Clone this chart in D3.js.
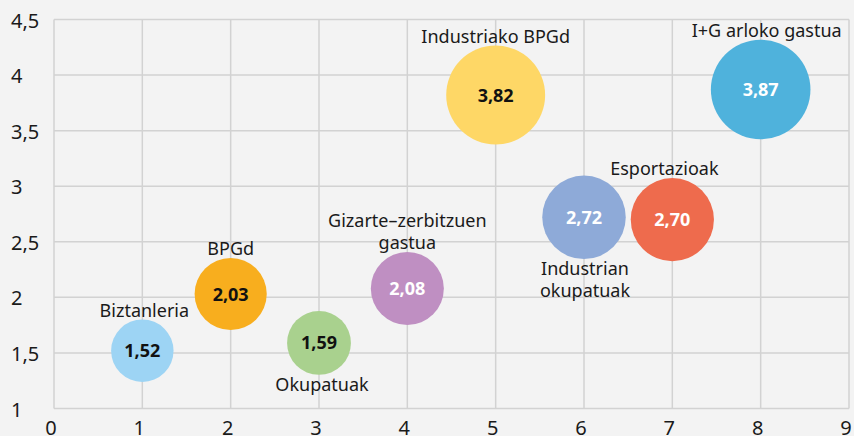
<!DOCTYPE html>
<html>
<head>
<meta charset="utf-8">
<script src="https://cdn.jsdelivr.net/npm/d3@7"></script>
<style>
	html, body { margin: 0; padding: 0; background: #f3f3f3; }
	svg { display: block; font-family: "Noto Sans", sans-serif; }
	.grid line { stroke: #d2d2d2; stroke-width: 1.5; }
	.tick-label { font-size: 20px; fill: #1a1a1a; }
	.name { font-size: 18px; fill: #1a1a1a; }
	.value { font-size: 18px; font-weight: bold; }
</style>
</head>
<body>
<div id="chart"></div>
<script>
// categories (one bubble for each), in the order along the x axis
const names = ["Biztanleria", "BPGd", "Okupatuak", "Gizarte–zerbitzuen gastua", "Industriako BPGd",
	"Industrian okupatuak", "Esportazioak", "I+G arloko gastua"];
const xValues = [1, 2, 3, 4, 5, 6, 7, 8];
const yValues = [1.52, 2.03, 1.59, 2.08, 3.82, 2.72, 2.70, 3.87];

// tick labels
const xTicks = [0, 1, 2, 3, 4, 5, 6, 7, 8, 9];
const yTicks = [1, 1.5, 2, 2.5, 3, 3.5, 4, 4.5];

// colori delle bolle e del testo interno
const colors = ["#9dd4f4", "#f8ae1e", "#a9d18e", "#bf8fc2", "#fed766", "#8eaad8", "#ee6b4d", "#4fb2dc"];
const valueColors = ["#111", "#111", "#111", "#fff", "#111", "#fff", "#fff", "#fff"];

// dove mettere il nome: sopra o sotto la bolla, le righe e un piccolo spostamento orizzontale
const labelSide = ["above", "above", "below", "above", "above", "below", "above", "above"];
const labelLines = [["Biztanleria"], ["BPGd"], ["Okupatuak"], ["Gizarte–zerbitzuen", "gastua"],
	["Industriako BPGd"], ["Industrian", "okupatuak"], ["Esportazioak"], ["I+G arloko gastua"]];
const labelDx = [2, 0, 3, 0, 0, 1, -8, 6];

const width = 854, height = 436;
const margin = { top: 19.5, right: 5, bottom: 27.5, left: 54 };

const svg = d3.select("#chart").append("svg")
	.attr("width", width)
	.attr("height", height);

svg.append("rect")
	.attr("width", width)
	.attr("height", height)
	.attr("fill", "#f3f3f3");

const x = d3.scaleLinear().domain([0, 9]).range([margin.left, width - margin.right]);
const y = d3.scaleLinear().domain([1, 4.5]).range([height - margin.bottom, margin.top]);
// area proporzionale al valore
const r = d3.scaleSqrt().domain([0, 3.87]).range([0, 49.8]);

// griglia
const grid = svg.append("g").attr("class", "grid");
grid.selectAll(".v")
	.data(xTicks)
	.enter().append("line")
	.attr("x1", d => x(d)).attr("x2", d => x(d))
	.attr("y1", y(4.5)).attr("y2", y(1));
grid.selectAll(".h")
	.data(yTicks)
	.enter().append("line")
	.attr("x1", x(0)).attr("x2", x(9))
	.attr("y1", d => y(d)).attr("y2", d => y(d));

// etichette degli assi
svg.selectAll(".ytick")
	.data(yTicks)
	.enter().append("text")
	.attr("class", "tick-label")
	.attr("x", 11)
	.attr("y", d => y(d))
	.attr("dy", "0.4em")
	.text(d => d3.format(".1~f")(d).replace(".", ","));

svg.selectAll(".xtick")
	.data(xTicks)
	.enter().append("text")
	.attr("class", "tick-label")
	.attr("x", d => x(d) - 3)
	.attr("y", 435)
	.attr("text-anchor", "middle")
	.text(d => d);

const data = names.map((n, i) => ({ name: n, x: xValues[i], y: yValues[i], i: i }));

const node = svg.selectAll(".node")
	.data(data)
	.enter().append("g")
	.attr("class", "node")
	.attr("transform", d => "translate(" + x(d.x) + "," + y(d.y) + ")");

node.append("circle")
	.attr("r", d => r(d.y))
	.attr("fill", d => colors[d.i]);

node.append("text")
	.attr("class", "value")
	.attr("text-anchor", "middle")
	.attr("dy", "0.36em")
	.attr("fill", d => valueColors[d.i])
	.text(d => d3.format(".2f")(d.y).replace(".", ","));

// nomi sopra o sotto la bolla
const lineH = 21.5;
node.each(function (d) {
	const lines = labelLines[d.i];
	const rad = r(d.y);
	const g = d3.select(this);
	lines.forEach((t, k) => {
		let yy;
		if (labelSide[d.i] === "above")
			yy = -rad - 3 - (lines.length - 1 - k) * lineH;
		else
			yy = rad + 16 + k * lineH;
		g.append("text")
			.attr("class", "name")
			.attr("x", labelDx[d.i])
			.attr("y", yy)
			.attr("text-anchor", "middle")
			.text(t);
	});
});
</script>
</body>
</html>
